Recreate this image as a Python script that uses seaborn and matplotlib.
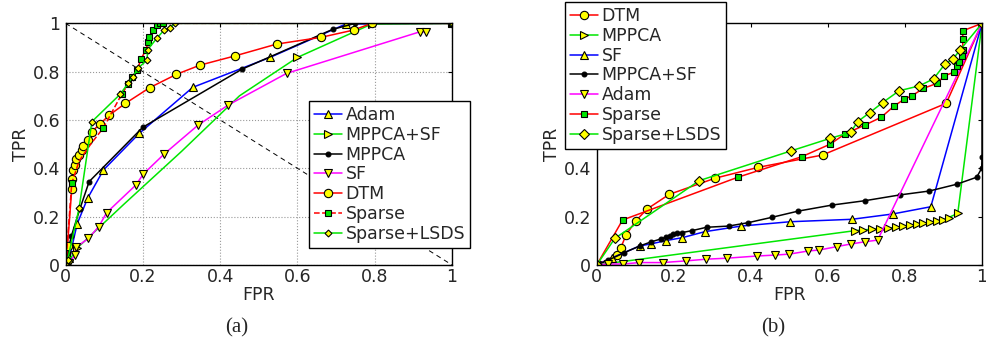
import numpy as np
import pandas as pd
import seaborn as sns
import matplotlib
import matplotlib.pyplot as plt

matplotlib.use("agg")

# ---- panel (a) ----
adam_a_x = [0, 0.01, 0.03, 0.057, 0.098, 0.191, 0.329, 0.529, 0.725, 1.0]
adam_a_y = [0, 0.03, 0.17, 0.276, 0.393, 0.545, 0.735, 0.859, 0.997, 1.0]

mppcasf_a_x = [0, 0.01, 0.03, 0.15, 0.30, 0.45, 0.60, 0.792, 1.0]
mppcasf_a_y = [0, 0.02, 0.07, 0.25, 0.47, 0.70, 0.859, 0.997, 1.0]

mppca_a_x = [0, 0.005, 0.015, 0.037, 0.061, 0.2, 0.456, 0.691, 0.75, 1.0]
mppca_a_y = [0, 0.05, 0.12, 0.232, 0.345, 0.57, 0.81, 0.975, 1.0, 1.0]

sf_a_x = [0, 0.01, 0.024, 0.027, 0.059, 0.086, 0.106, 0.182, 0.201, 0.255,
          0.343, 0.421, 0.572, 0.917, 0.933]
sf_a_y = [0, 0.01, 0.041, 0.073, 0.11, 0.159, 0.216, 0.331, 0.376, 0.459,
          0.579, 0.662, 0.793, 0.965, 0.965]

dtm_a_x = [0, 0.005, 0.016, 0.016, 0.02, 0.024, 0.027, 0.035, 0.042, 0.046,
           0.059, 0.068, 0.09, 0.113, 0.155, 0.218, 0.287, 0.348, 0.438,
           0.546, 0.661, 0.745, 0.792, 1.0]
dtm_a_y = [0, 0.08, 0.313, 0.355, 0.393, 0.414, 0.437, 0.455, 0.476, 0.492,
           0.517, 0.552, 0.585, 0.62, 0.669, 0.734, 0.789, 0.827, 0.865,
           0.914, 0.942, 0.972, 1.0, 1.0]

sparse_a_x = [0, 0.005, 0.016, 0.035, 0.065, 0.098, 0.145, 0.162, 0.171,
              0.186, 0.195, 0.208, 0.214, 0.217, 0.227, 0.236, 0.244, 0.253, 1.0]
sparse_a_y = [0, 0.1, 0.338, 0.43, 0.5, 0.568, 0.706, 0.748, 0.779, 0.807,
              0.852, 0.89, 0.924, 0.945, 0.972, 0.993, 1.0, 1.0, 1.0]

lsds_a_x = [0, 0.005, 0.035, 0.068, 0.141, 0.162, 0.174, 0.187, 0.211, 0.212,
            0.237, 0.255, 0.27, 0.283, 1.0]
lsds_a_y = [0, 0.02, 0.235, 0.593, 0.706, 0.752, 0.779, 0.814, 0.848, 0.89,
            0.94, 0.972, 0.981, 1.0, 1.0]

# ---- panel (b) ----
dtm_b_x = [0, 0.052, 0.062, 0.076, 0.101, 0.131, 0.188, 0.307, 0.419, 0.586, 0.907, 1.0]
dtm_b_y = [0, 0.041, 0.069, 0.124, 0.182, 0.232, 0.292, 0.359, 0.404, 0.455, 0.669, 1.0]

mppca_b_x = [0, 0.670, 0.690, 0.714, 0.735, 0.757, 0.776, 0.794, 0.813, 0.831,
             0.848, 0.865, 0.882, 0.898, 0.913, 0.937, 1.0]
mppca_b_y = [0, 0.142, 0.145, 0.148, 0.149, 0.152, 0.156, 0.161, 0.165, 0.168,
             0.172, 0.177, 0.182, 0.186, 0.196, 0.214, 1.0]

sf_b_x = [0, 0.04, 0.112, 0.14, 0.18, 0.222, 0.281, 0.375, 0.502, 0.662, 0.768, 0.867, 1.0]
sf_b_y = [0, 0.03, 0.079, 0.087, 0.101, 0.113, 0.138, 0.161, 0.179, 0.189, 0.211, 0.241, 1.0]

mppcasf_b_x = [0, 0.03, 0.07, 0.112, 0.14, 0.167, 0.18, 0.19, 0.199, 0.208, 0.221,
               0.247, 0.285, 0.342, 0.393, 0.454, 0.523, 0.611, 0.696, 0.787,
               0.863, 0.934, 0.986, 0.999, 1.0, 1.0]
mppcasf_b_y = [0, 0.02, 0.05, 0.079, 0.095, 0.108, 0.115, 0.121, 0.127, 0.131, 0.134,
               0.142, 0.156, 0.161, 0.175, 0.197, 0.223, 0.248, 0.266, 0.29,
               0.306, 0.334, 0.363, 0.4, 0.448, 1.0]

adam_b_x = [0, 0.028, 0.069, 0.11, 0.171, 0.232, 0.284, 0.337, 0.415, 0.463,
            0.5, 0.549, 0.578, 0.623, 0.66, 0.696, 0.729, 1.0]
adam_b_y = [0, 0.004, 0.004, 0.01, 0.01, 0.017, 0.024, 0.028, 0.037, 0.041,
            0.045, 0.058, 0.062, 0.076, 0.087, 0.096, 0.103, 1.0]

sparse_b_x = [0, 0.067, 0.366, 0.532, 0.606, 0.644, 0.696, 0.738, 0.772, 0.798,
              0.818, 0.848, 0.884, 0.901, 0.926, 0.934, 0.941, 0.947, 0.95,
              0.95, 0.95, 1.0]
sparse_b_y = [0, 0.186, 0.363, 0.448, 0.5, 0.542, 0.579, 0.611, 0.658, 0.686,
              0.7, 0.731, 0.752, 0.782, 0.797, 0.823, 0.841, 0.866, 0.89,
              0.935, 0.969, 1.0]

lsds_b_x = [0, 0.047, 0.266, 0.504, 0.606, 0.659, 0.677, 0.708, 0.742, 0.785,
            0.837, 0.874, 0.904, 0.924, 0.943, 1.0]
lsds_b_y = [0, 0.11, 0.349, 0.472, 0.524, 0.549, 0.593, 0.63, 0.672, 0.721,
            0.741, 0.77, 0.832, 0.851, 0.89, 1.0]

ticks = [0, 0.2, 0.4, 0.6, 0.8, 1.0]
tick_labels = ["0", "0.2", "0.4", "0.6", "0.8", "1"]

sns.set_style("white")
plt.rcParams["font.family"] = ["DejaVu Sans"]
FS = 12.5

RED = "#ff0000"
GREEN = "#00e600"
BLUE = "#0000ff"
MAG = "#ff00ff"
YEL = "#ffff00"


def curve(ax, x, y, label, color, marker, ms, ls="-", mfc=YEL, markevery=None):
    df = pd.DataFrame({"x": x, "y": y})
    sns.lineplot(data=df, x="x", y="y", ax=ax, sort=False, estimator=None,
                 color=color, linestyle=ls, linewidth=1.1, marker=marker,
                 markersize=ms, markerfacecolor=mfc, markeredgecolor="black",
                 markeredgewidth=0.8, markevery=markevery, label=label)


def style_axes(ax, grid):
    ax.set_xlim(0, 1)
    ax.set_ylim(0, 1)
    ax.set_xticks(ticks)
    ax.set_yticks(ticks)
    ax.set_xticklabels(tick_labels)
    ax.set_yticklabels(tick_labels)
    ax.tick_params(direction="in", length=3, top=True, right=True,
                   labelsize=FS, color="black")
    ax.tick_params(axis="x", pad=2.5)
    ax.tick_params(axis="y", pad=4)
    for s in ax.spines.values():
        s.set_color("black")
        s.set_linewidth(1.0)
    if grid:
        ax.grid(True, linestyle=":", color="#999999", linewidth=0.8)
    ax.set_xlabel("FPR", fontsize=FS, labelpad=0)
    ax.set_ylabel("TPR", fontsize=FS, labelpad=2)


def legend(ax, x0, y0):
    h, l = ax.get_legend_handles_labels()
    ax.legend(h, l, loc="upper left", bbox_to_anchor=(x0 / 986, 1 - y0 / 350),
              bbox_transform=fig.transFigure, fontsize=FS, frameon=True,
              fancybox=False, edgecolor="black", framealpha=1, labelspacing=0.1,
              handlelength=1.6, handletextpad=0.2, borderpad=0.3,
              borderaxespad=0)


fig = plt.figure(figsize=(9.86, 3.5), dpi=100)
ax_a = fig.add_axes([0.0665, 0.2429, 0.3920, 0.6905])
ax_b = fig.add_axes([0.6052, 0.2429, 0.3908, 0.6905])

# (a)
ax_a.plot([0, 1], [1, 0], color="black", linestyle=(0, (5, 4)), linewidth=0.7)
curve(ax_a, adam_a_x, adam_a_y, "Adam", BLUE, "^", 6)
curve(ax_a, mppcasf_a_x, mppcasf_a_y, "MPPCA+SF", GREEN, ">", 6,
      markevery=[0, 1, 2, 6, 7, 8])
curve(ax_a, mppca_a_x, mppca_a_y, "MPPCA", "black", ".", 7, mfc="black")
curve(ax_a, sf_a_x, sf_a_y, "SF", MAG, "v", 6)
curve(ax_a, dtm_a_x, dtm_a_y, "DTM", RED, "o", 6)
curve(ax_a, sparse_a_x, sparse_a_y, "Sparse", RED, "s", 5, ls="--", mfc=GREEN,
      markevery=[0, 2, 5, 6, 7, 8, 9, 10, 11, 12, 13, 14, 15, 16, 17, 18])
curve(ax_a, lsds_a_x, lsds_a_y, "Sparse+LSDS", GREEN, "D", 3.5)
style_axes(ax_a, True)
legend(ax_a, 309, 101)

# (b)
curve(ax_b, dtm_b_x, dtm_b_y, "DTM", RED, "o", 6)
curve(ax_b, mppca_b_x, mppca_b_y, "MPPCA", GREEN, ">", 6)
curve(ax_b, sf_b_x, sf_b_y, "SF", BLUE, "^", 6)
curve(ax_b, mppcasf_b_x, mppcasf_b_y, "MPPCA+SF", "black", ".", 7, mfc="black")
curve(ax_b, adam_b_x, adam_b_y, "Adam", MAG, "v", 6)
curve(ax_b, sparse_b_x, sparse_b_y, "Sparse", RED, "s", 5, mfc=GREEN)
curve(ax_b, lsds_b_x, lsds_b_y, "Sparse+LSDS", GREEN, "D", 5.5)
style_axes(ax_b, False)
legend(ax_b, 565, 2)

fig.text(237 / 986, 1 - 328 / 350, "(a)", ha="center", va="center",
         fontsize=15, family=["Liberation Serif", "DejaVu Serif"])
fig.text(773 / 986, 1 - 328 / 350, "(b)", ha="center", va="center",
         fontsize=15, family=["Liberation Serif", "DejaVu Serif"])

fig.savefig("out.png", dpi=100)
